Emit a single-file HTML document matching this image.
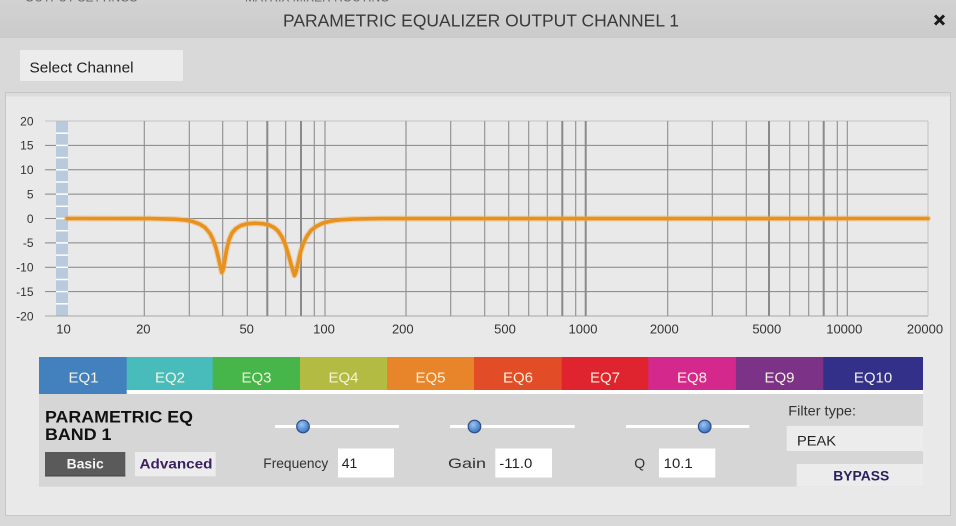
<!DOCTYPE html>
<html>
<head>
<meta charset="utf-8">
<style>
html,body{margin:0;padding:0;background:#d9d9d9;}
svg{display:block;}
text{font-family:"Liberation Sans",Arial,sans-serif;}
</style>
</head>
<body>
<svg width="956" height="526" viewBox="0 0 956 526" xmlns="http://www.w3.org/2000/svg">
  <defs>
    <radialGradient id="knob" cx="40%" cy="35%" r="70%">
      <stop offset="0" stop-color="#9cc4f0"/>
      <stop offset="0.6" stop-color="#5a8fd4"/>
      <stop offset="1" stop-color="#3a6cb4"/>
    </radialGradient>
    <linearGradient id="title" x1="0" y1="0" x2="0" y2="1">
      <stop offset="0" stop-color="#d2d2d2"/>
      <stop offset="1" stop-color="#cbcbcb"/>
    </linearGradient>
  </defs>

  <!-- background -->
  <rect x="0" y="0" width="956" height="526" fill="#d9d9d9"/>
  <rect x="0" y="0" width="956" height="38" fill="url(#title)"/>
  <!-- cut-off text at very top -->
  <text x="25" y="1.5" font-size="12" fill="#666">OUTPUT SETTINGS</text>
  <text x="245" y="1.5" font-size="12" fill="#666">MATRIX MIXER ROUTING</text>

  <!-- title -->
  <text x="283" y="26.5" font-size="17.5" fill="#3a3a3a" textLength="396" lengthAdjust="spacingAndGlyphs">PARAMETRIC EQUALIZER OUTPUT CHANNEL 1</text>
  <!-- close x -->
  <path d="M935 15.5 L944 24.5 M944 15.5 L935 24.5" stroke="#1a1a1a" stroke-width="3"/>

  <!-- select channel -->
  <rect x="20" y="50" width="163" height="31" fill="#ececec"/>
  <text x="29.5" y="72.5" font-size="15" fill="#222" textLength="104" lengthAdjust="spacingAndGlyphs">Select Channel</text>

  <!-- main panel -->
  <rect x="5" y="92" width="946" height="424" fill="#c6c6c6"/>
  <rect x="6" y="93" width="944" height="422" fill="#e9e9e9"/>
  <rect x="6" y="93" width="944" height="3" fill="#dcdcdc"/>
  <rect x="6" y="96" width="944" height="1" fill="#e3e3e3"/>

  <!-- blue bar -->
  <rect x="56" y="121" width="12" height="195" fill="#b8cadc"/>
  <g stroke="#ffffff" stroke-width="1.5">
    <line x1="56" x2="68" y1="133.2" y2="133.2"/>
    <line x1="56" x2="68" y1="145.4" y2="145.4"/>
    <line x1="56" x2="68" y1="157.6" y2="157.6"/>
    <line x1="56" x2="68" y1="169.8" y2="169.8"/>
    <line x1="56" x2="68" y1="182.0" y2="182.0"/>
    <line x1="56" x2="68" y1="194.1" y2="194.1"/>
    <line x1="56" x2="68" y1="206.3" y2="206.3"/>
    <line x1="56" x2="68" y1="218.5" y2="218.5"/>
    <line x1="56" x2="68" y1="230.7" y2="230.7"/>
    <line x1="56" x2="68" y1="242.9" y2="242.9"/>
    <line x1="56" x2="68" y1="255.1" y2="255.1"/>
    <line x1="56" x2="68" y1="267.3" y2="267.3"/>
    <line x1="56" x2="68" y1="279.5" y2="279.5"/>
    <line x1="56" x2="68" y1="291.6" y2="291.6"/>
    <line x1="56" x2="68" y1="303.8" y2="303.8"/>
  </g>

  <!-- horizontal grid -->
  <line x1="45" x2="928" y1="121" y2="121" stroke="#c2c2c2" stroke-width="1"/>
  <g stroke="#858585" stroke-width="1">
    <line x1="45" x2="56" y1="145.4" y2="145.4"/><line x1="68" x2="928" y1="145.4" y2="145.4"/>
    <line x1="45" x2="56" y1="169.8" y2="169.8"/><line x1="68" x2="928" y1="169.8" y2="169.8"/>
    <line x1="45" x2="56" y1="194.1" y2="194.1"/><line x1="68" x2="928" y1="194.1" y2="194.1"/>
    <line x1="45" x2="56" y1="218.5" y2="218.5"/><line x1="68" x2="928" y1="218.5" y2="218.5"/>
    <line x1="45" x2="56" y1="242.9" y2="242.9"/><line x1="68" x2="928" y1="242.9" y2="242.9"/>
    <line x1="45" x2="56" y1="267.3" y2="267.3"/><line x1="68" x2="928" y1="267.3" y2="267.3"/>
    <line x1="45" x2="56" y1="291.6" y2="291.6"/><line x1="68" x2="928" y1="291.6" y2="291.6"/>
  </g>
  <line x1="45" x2="928" y1="316" y2="316" stroke="#a8a8a8" stroke-width="1"/>

  <!-- vertical grid -->
  <g stroke="#8e8e8e" stroke-width="1.1">
    <line x1="144.3" x2="144.3" y1="121" y2="316"/>
    <line x1="189.3" x2="189.3" y1="121" y2="316"/>
    <line x1="222.7" x2="222.7" y1="121" y2="316"/>
    <line x1="247.3" x2="247.3" y1="121" y2="316"/>
    <line x1="285.7" x2="285.7" y1="121" y2="316"/>
    <line x1="314.3" x2="314.3" y1="121" y2="316"/>
    <line x1="325" x2="325" y1="121" y2="316"/>
    <line x1="406" x2="406" y1="121" y2="316"/>
    <line x1="450.7" x2="450.7" y1="121" y2="316"/>
    <line x1="484.7" x2="484.7" y1="121" y2="316"/>
    <line x1="508.7" x2="508.7" y1="121" y2="316"/>
    <line x1="528.7" x2="528.7" y1="121" y2="316"/>
    <line x1="547.3" x2="547.3" y1="121" y2="316"/>
    <line x1="575.7" x2="575.7" y1="121" y2="316"/>
    <line x1="667.7" x2="667.7" y1="121" y2="316"/>
    <line x1="712.3" x2="712.3" y1="121" y2="316"/>
    <line x1="746.3" x2="746.3" y1="121" y2="316"/>
    <line x1="789.7" x2="789.7" y1="121" y2="316"/>
    <line x1="808.7" x2="808.7" y1="121" y2="316"/>
    <line x1="837.3" x2="837.3" y1="121" y2="316"/>
    <line x1="847.3" x2="847.3" y1="121" y2="316"/>
  </g>
  <g stroke="#8a8a8a" stroke-width="2">
    <line x1="267.3" x2="267.3" y1="121" y2="316"/>
    <line x1="301" x2="301" y1="121" y2="316"/>
    <line x1="562.3" x2="562.3" y1="121" y2="316"/>
    <line x1="585.7" x2="585.7" y1="121" y2="316"/>
    <line x1="769" x2="769" y1="121" y2="316"/>
    <line x1="823.7" x2="823.7" y1="121" y2="316"/>
  </g>
  <line x1="928" x2="928" y1="121" y2="316" stroke="#c4c4c4" stroke-width="1"/>

  <!-- y labels -->
  <g font-size="12" fill="#333" text-anchor="end">
    <text x="33.5" y="125.3">20</text>
    <text x="33.5" y="149.7">15</text>
    <text x="33.5" y="174.1">10</text>
    <text x="33.5" y="198.4">5</text>
    <text x="33.5" y="222.8">0</text>
    <text x="33.5" y="247.2">-5</text>
    <text x="33.5" y="271.6">-10</text>
    <text x="33.5" y="295.9">-15</text>
    <text x="33.5" y="320.3">-20</text>
  </g>
  <!-- x labels -->
  <g font-size="13" fill="#333" text-anchor="middle">
    <text x="63.5" y="333.5">10</text>
    <text x="143.3" y="333.5">20</text>
    <text x="246.7" y="333.5">50</text>
    <text x="324" y="333.5">100</text>
    <text x="402.8" y="333.5">200</text>
    <text x="505" y="333.5">500</text>
    <text x="583" y="333.5">1000</text>
    <text x="664.3" y="333.5">2000</text>
    <text x="766.8" y="333.5">5000</text>
    <text x="844.3" y="333.5">10000</text>
    <text x="925" y="333.5">20000</text>
  </g>

  <!-- response curve -->
  <polyline fill="none" stroke="#f0b060" stroke-opacity="0.45" stroke-width="6" stroke-linejoin="round" stroke-linecap="round"
    points="67,218.5 150,218.6 175,219.2 185,220 192,221.3 200,224.2 205,227.5 210,233.5 213,239.5 216,248 218.5,258 220.5,267 221.8,272.5 223,270 224.5,262 226.5,250 229,240 232,233 236,228.5 241,225.5 247,223.8 255,223.2 263,223.7 269,225 274,227.5 278,231 282,237 285.5,245 288.5,255 291,264 293,271 294.5,275.5 296,272 298,263 300.5,252 303.5,243 307,236 311,230.5 316,226.5 323,223 331,221 340,219.8 355,219 380,218.6 928,218.5"/>
  <polyline fill="none" stroke="#e8911c" stroke-width="3.6" stroke-linejoin="round" stroke-linecap="round"
    points="67,218.5 150,218.6 175,219.2 185,220 192,221.3 200,224.2 205,227.5 210,233.5 213,239.5 216,248 218.5,258 220.5,267 221.8,272.5 223,270 224.5,262 226.5,250 229,240 232,233 236,228.5 241,225.5 247,223.8 255,223.2 263,223.7 269,225 274,227.5 278,231 282,237 285.5,245 288.5,255 291,264 293,271 294.5,275.5 296,272 298,263 300.5,252 303.5,243 307,236 311,230.5 316,226.5 323,223 331,221 340,219.8 355,219 380,218.6 928,218.5"/>

  <!-- EQ tabs -->
  <rect x="39" y="357" width="88" height="37" fill="#4281be"/>
  <rect x="126.7" y="357" width="86.3" height="33" fill="#48bbbb"/>
  <rect x="212.7" y="357" width="87.6" height="33" fill="#46b64a"/>
  <rect x="300" y="357" width="87.3" height="33" fill="#b3bb43"/>
  <rect x="387" y="357" width="87.3" height="33" fill="#e8842a"/>
  <rect x="474" y="357" width="88" height="33" fill="#e24c26"/>
  <rect x="561.7" y="357" width="86.8" height="33" fill="#e0242f"/>
  <rect x="648.3" y="357" width="87.6" height="33" fill="#d5288d"/>
  <rect x="735.7" y="357" width="87.8" height="33" fill="#7b3287"/>
  <rect x="823.3" y="357" width="99.7" height="33" fill="#333089"/>
  <rect x="126.7" y="390" width="796.3" height="4" fill="#ffffff"/>
  <g font-size="15" fill="#f6f2de" text-anchor="middle">
    <text x="83.5" y="382.5">EQ1</text>
    <text x="170" y="382.5">EQ2</text>
    <text x="256.5" y="382.5">EQ3</text>
    <text x="343.5" y="382.5">EQ4</text>
    <text x="430.5" y="382.5">EQ5</text>
    <text x="518" y="382.5">EQ6</text>
    <text x="605" y="382.5">EQ7</text>
    <text x="692" y="382.5">EQ8</text>
    <text x="779.5" y="382.5">EQ9</text>
    <text x="873" y="382.5">EQ10</text>
  </g>

  <!-- controls panel -->
  <rect x="39" y="394" width="884" height="92.7" fill="#d6d6d6"/>

  <text x="45" y="422.5" font-size="17" font-weight="bold" fill="#111" textLength="148" lengthAdjust="spacingAndGlyphs">PARAMETRIC EQ</text>
  <text x="45" y="440" font-size="17" font-weight="bold" fill="#111" textLength="66.5" lengthAdjust="spacingAndGlyphs">BAND 1</text>

  <rect x="45" y="452" width="80.3" height="24.3" fill="#5a5a5a"/>
  <rect x="45" y="475.5" width="80.3" height="1" fill="#444"/>
  <text x="66.7" y="468.3" font-size="13.5" font-weight="bold" fill="#f4f4f4" textLength="37" lengthAdjust="spacingAndGlyphs">Basic</text>
  <rect x="135" y="452" width="80.7" height="24.3" fill="#ececec"/>
  <text x="139.5" y="468.3" font-size="13.5" font-weight="bold" fill="#3b1f63" textLength="73" lengthAdjust="spacingAndGlyphs">Advanced</text>

  <!-- sliders -->
  <rect x="275" y="425" width="124" height="3" fill="#ffffff"/>
  <circle cx="303" cy="426.5" r="6.3" fill="url(#knob)" stroke="#2c4f86" stroke-width="1.2"/>
  <rect x="450" y="425" width="124.7" height="3" fill="#ffffff"/>
  <circle cx="474.5" cy="426.5" r="6.3" fill="url(#knob)" stroke="#2c4f86" stroke-width="1.2"/>
  <rect x="626" y="425" width="123.3" height="3" fill="#ffffff"/>
  <circle cx="704.7" cy="426.5" r="6.3" fill="url(#knob)" stroke="#2c4f86" stroke-width="1.2"/>

  <!-- inputs -->
  <text x="263.3" y="468" font-size="14" fill="#333" textLength="65" lengthAdjust="spacingAndGlyphs">Frequency</text>
  <rect x="338" y="448.5" width="56" height="29" fill="#ffffff"/>
  <text x="341.7" y="468" font-size="14" fill="#222">41</text>

  <text x="448" y="468" font-size="14" fill="#333" textLength="38" lengthAdjust="spacingAndGlyphs">Gain</text>
  <rect x="495.3" y="448.5" width="56.7" height="29" fill="#ffffff"/>
  <text x="499.3" y="468" font-size="14" fill="#222" textLength="33" lengthAdjust="spacingAndGlyphs">-11.0</text>

  <text x="634.3" y="468" font-size="14" fill="#333">Q</text>
  <rect x="659" y="448.5" width="56.3" height="29" fill="#ffffff"/>
  <text x="663.7" y="468" font-size="14" fill="#222" textLength="29" lengthAdjust="spacingAndGlyphs">10.1</text>

  <!-- filter type -->
  <text x="788.3" y="415.5" font-size="14" fill="#333" textLength="67.7" lengthAdjust="spacingAndGlyphs">Filter type:</text>
  <rect x="786.7" y="426" width="136.3" height="25" fill="#ececec"/>
  <text x="797" y="445.5" font-size="14" fill="#222" textLength="39" lengthAdjust="spacingAndGlyphs">PEAK</text>
  <rect x="796.7" y="464" width="126.3" height="22.5" fill="#ececec"/>
  <text x="833.3" y="480.7" font-size="13.5" font-weight="bold" fill="#2a2060" textLength="56" lengthAdjust="spacingAndGlyphs">BYPASS</text>
</svg>
</body>
</html>
